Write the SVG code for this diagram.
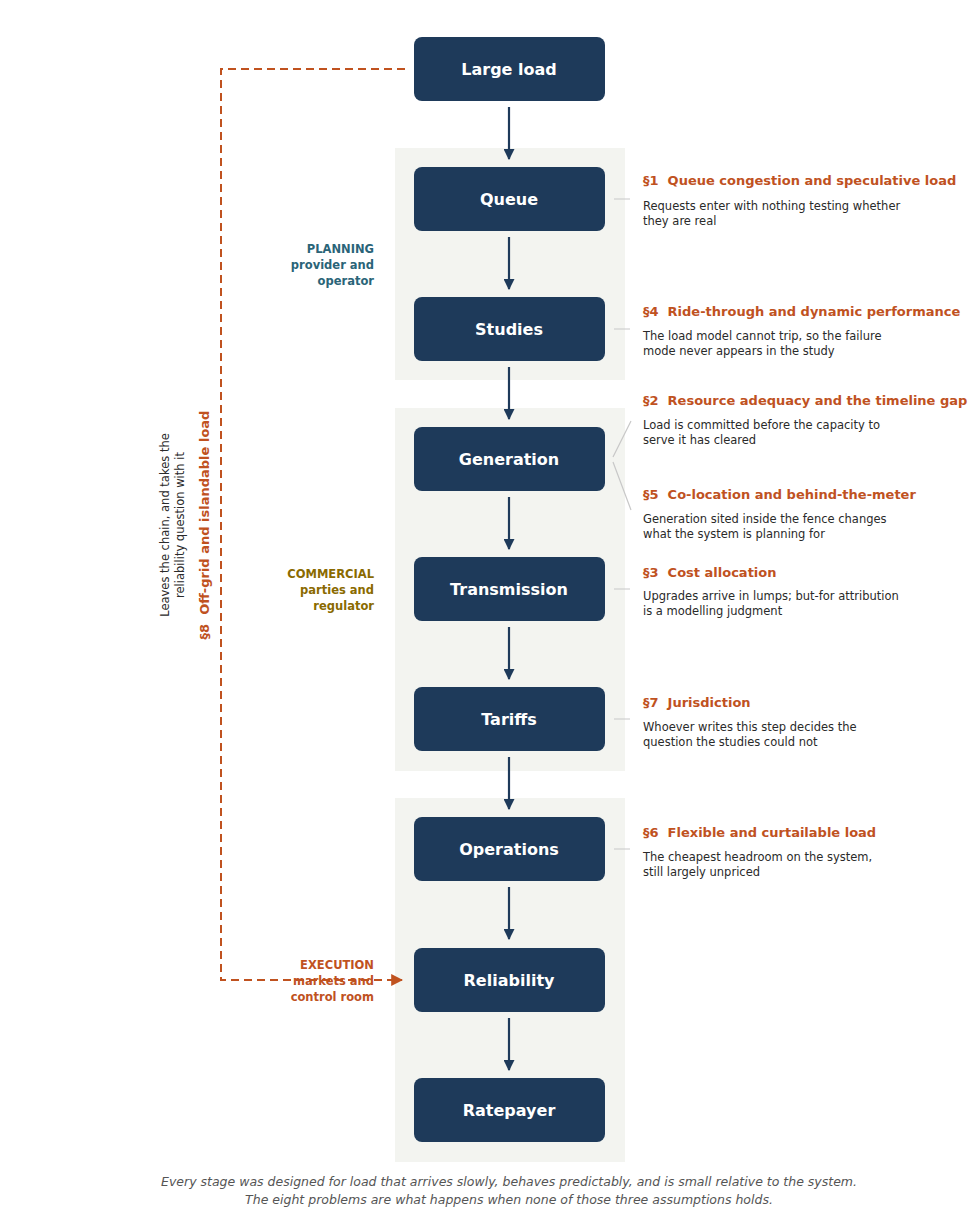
<svg xmlns="http://www.w3.org/2000/svg" width="980" height="1232" viewBox="0 0 980 1232">
<style>
text{font-family:"DejaVu Sans","Liberation Sans",sans-serif}
.panel{fill:#f3f4f0}
.node rect{fill:#1e3a5a}
.node text{fill:#fff;font-size:16px;font-weight:bold;text-anchor:middle}
.arr{stroke:#1e3a5a;stroke-width:2.2;fill:none;marker-end:url(#ah)}
.lead{stroke:#c8c8c8;stroke-width:1.2;fill:none}
.t{fill:#c0521f;font-size:13px;font-weight:bold}
.d{fill:#2a2a2a;font-size:11.5px}
.lab{font-size:11.5px;font-weight:bold;text-anchor:end}
.foot{fill:#555;font-size:12.5px;font-style:italic;text-anchor:middle}
</style>
<defs>
<marker id="ah" viewBox="0 0 10 10" refX="9" refY="5" markerWidth="5" markerHeight="5" orient="auto" markerUnits="strokeWidth"><path d="M0,0L10,5L0,10z" fill="#1e3a5a"/></marker>
<marker id="ao" viewBox="0 0 10 10" refX="9" refY="5" markerWidth="6" markerHeight="6" orient="auto" markerUnits="strokeWidth"><path d="M0,0L10,5L0,10z" fill="#c0521f"/></marker>
</defs>
<rect class="panel" x="395" y="148" width="230" height="232"/>
<rect class="panel" x="395" y="408" width="230" height="363"/>
<rect class="panel" x="395" y="798" width="230" height="364"/>
<g id="connectors">
<path class="arr" d="M509,107V159"/>
<path class="arr" d="M509,237V289"/>
<path class="arr" d="M509,367V419"/>
<path class="arr" d="M509,497V549"/>
<path class="arr" d="M509,627V679"/>
<path class="arr" d="M509,757V809"/>
<path class="arr" d="M509,887V939"/>
<path class="arr" d="M509,1018V1070"/>
<path d="M405,69H221V980H402" stroke="#c0521f" stroke-width="2" stroke-dasharray="8,5" fill="none" marker-end="url(#ao)"/>
<path class="lead" d="M614,199H630M614,329H630M613,457L631,421M613,462L631,510M614,589H630M614,719H630M614,849H630"/>
</g>
<g id="n-large" class="node"><rect x="414" y="37" width="191" height="64" rx="8"/><text x="509" y="75">Large load</text></g>
<g id="n-queue" class="node"><rect x="414" y="167" width="191" height="64" rx="8"/><text x="509" y="205">Queue</text></g>
<g id="n-studies" class="node"><rect x="414" y="297" width="191" height="64" rx="8"/><text x="509" y="335">Studies</text></g>
<g id="n-gen" class="node"><rect x="414" y="427" width="191" height="64" rx="8"/><text x="509" y="465">Generation</text></g>
<g id="n-trans" class="node"><rect x="414" y="557" width="191" height="64" rx="8"/><text x="509" y="595">Transmission</text></g>
<g id="n-tariffs" class="node"><rect x="414" y="687" width="191" height="64" rx="8"/><text x="509" y="725">Tariffs</text></g>
<g id="n-ops" class="node"><rect x="414" y="817" width="191" height="64" rx="8"/><text x="509" y="855">Operations</text></g>
<g id="n-rel" class="node"><rect x="414" y="948" width="191" height="64" rx="8"/><text x="509" y="986">Reliability</text></g>
<g id="n-rate" class="node"><rect x="414" y="1078" width="191" height="64" rx="8"/><text x="509" y="1116">Ratepayer</text></g>
<g id="notes">
<text class="t" x="643" y="185">§1&#160; Queue congestion and speculative load</text>
<text class="d" x="643" y="210">Requests enter with nothing testing whether</text>
<text class="d" x="643" y="225">they are real</text>
<text class="t" x="643" y="316">§4&#160; Ride-through and dynamic performance</text>
<text class="d" x="643" y="340">The load model cannot trip, so the failure</text>
<text class="d" x="643" y="355">mode never appears in the study</text>
<text class="t" x="643" y="405">§2&#160; Resource adequacy and the timeline gap</text>
<text class="d" x="643" y="429">Load is committed before the capacity to</text>
<text class="d" x="643" y="444">serve it has cleared</text>
<text class="t" x="643" y="499">§5&#160; Co-location and behind-the-meter</text>
<text class="d" x="643" y="523">Generation sited inside the fence changes</text>
<text class="d" x="643" y="538">what the system is planning for</text>
<text class="t" x="643" y="577">§3&#160; Cost allocation</text>
<text class="d" x="643" y="600">Upgrades arrive in lumps; but-for attribution</text>
<text class="d" x="643" y="615">is a modelling judgment</text>
<text class="t" x="643" y="707">§7&#160; Jurisdiction</text>
<text class="d" x="643" y="731">Whoever writes this step decides the</text>
<text class="d" x="643" y="746">question the studies could not</text>
<text class="t" x="643" y="837">§6&#160; Flexible and curtailable load</text>
<text class="d" x="643" y="861">The cheapest headroom on the system,</text>
<text class="d" x="643" y="876">still largely unpriced</text>
</g>
<g id="phases">
<text class="lab" fill="#2a6478" x="374" y="253">PLANNING</text>
<text class="lab" fill="#2a6478" x="374" y="269">provider and</text>
<text class="lab" fill="#2a6478" x="374" y="285">operator</text>
<text class="lab" fill="#8a6a00" x="374" y="578">COMMERCIAL</text>
<text class="lab" fill="#8a6a00" x="374" y="594">parties and</text>
<text class="lab" fill="#8a6a00" x="374" y="610">regulator</text>
<text class="lab" fill="#c0521f" x="374" y="969">EXECUTION</text>
<text class="lab" fill="#c0521f" x="374" y="985">markets and</text>
<text class="lab" fill="#c0521f" x="374" y="1001">control room</text>
</g>
<g id="s8">
<text transform="translate(209,525) rotate(-90)" text-anchor="middle" fill="#c0521f" font-size="13" font-weight="bold">§8&#160; Off-grid and islandable load</text>
<text transform="translate(169,525) rotate(-90)" text-anchor="middle" fill="#2a2a2a" font-size="11.5">Leaves the chain, and takes the</text>
<text transform="translate(184,525) rotate(-90)" text-anchor="middle" fill="#2a2a2a" font-size="11.5">reliability question with it</text>
</g>
<text class="foot" x="509" y="1186">Every stage was designed for load that arrives slowly, behaves predictably, and is small relative to the system.</text>
<text class="foot" x="509" y="1204">The eight problems are what happens when none of those three assumptions holds.</text>
</svg>
